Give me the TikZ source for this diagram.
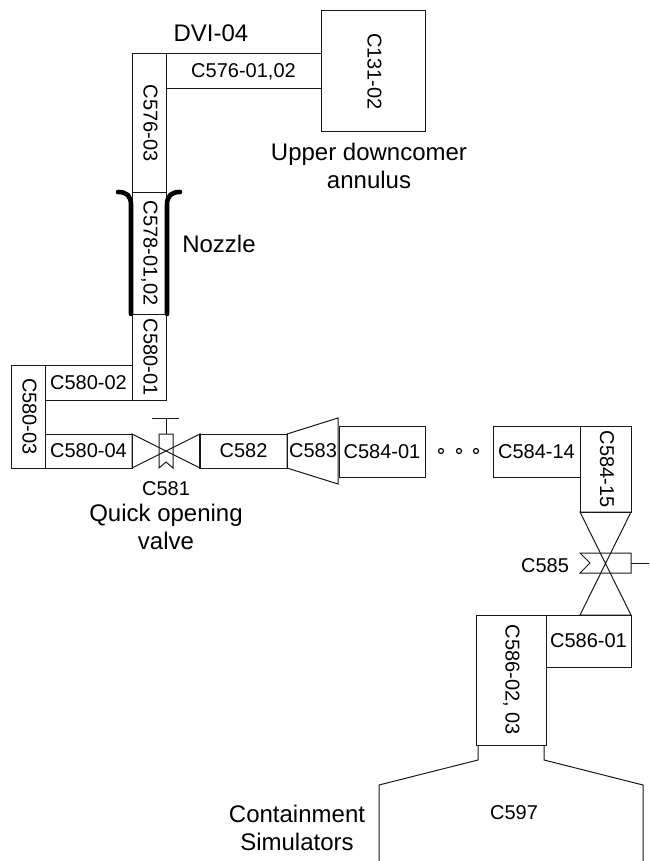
\documentclass[tikz,border=0pt]{standalone}
\usepackage{fontspec}
\setmainfont{Liberation Sans}
\newcommand{\pxbox}[7]{% name, x0, y0, x1, y1, rotation, text
  \pgfmathsetmacro{\cxv}{(#2+#4)/2}\pgfmathsetmacro{\cyv}{(#3+#5)/2}
  \pgfmathsetmacro{\wv}{abs(#4-#2)}\pgfmathsetmacro{\hv}{abs(#5-#3)}
  \ifnum#6=0
    \node[pipebox,minimum width=\wv pt,minimum height=\hv pt] (#1) at (\cxv,\cyv) {#7};
  \else
    \node[pipebox,rotate=-90,minimum width=\hv pt,minimum height=\wv pt] (#1) at (\cxv,\cyv) {\raisebox{3pt}{#7}};
  \fi}
\tikzset{
  pipebox/.style={draw=black!90,line width=1pt,inner sep=0pt,font=\fontsize{20}{24}\selectfont},
  shapeline/.style={draw=black!90,line width=1pt,line join=miter},
  thickwall/.style={draw=black,line width=4.6pt,line cap=round},
  biglabel/.style={inner sep=0pt,align=center,font=\fontsize{24}{28}\selectfont},
  smalllabel/.style={inner sep=0pt,font=\fontsize{20}{24}\selectfont},
  dotmark/.style={circle,draw=black,line width=1.2pt,minimum size=5pt,inner sep=0pt}
}
\begin{document}
\begin{tikzpicture}[x=1pt,y=-1pt]
\useasboundingbox (0,0) rectangle (649,861);
% top section
\pxbox{cOneThreeOne}{321}{11}{425}{132}{1}{C131-02}
\pxbox{cFiveSevenSixA}{166}{54}{321}{89}{0}{C576-01,02}
\pxbox{cFiveSevenSixB}{132}{54}{166}{192}{1}{C576-03}
\pxbox{cFiveSevenEight}{132}{192}{166}{314}{1}{C578-01,02}
\pxbox{cFiveEightyA}{132}{314}{166}{400}{1}{C580-01}
\pxbox{cFiveEightyB}{45}{365}{132}{400}{0}{C580-02}
\pxbox{cFiveEightyC}{11}{365}{45}{468}{1}{C580-03}
\pxbox{cFiveEightyD}{45}{434}{132}{468}{0}{C580-04}
% nozzle walls
\draw[thickwall] (131,314) -- (131,205) .. controls (131,196) and (127,192) .. (118,192);
\draw[thickwall] (167,314) -- (167,205) .. controls (167,196) and (171,192) .. (180,192);
% valve C581
\draw[shapeline] (159,468) -- (159,434) -- (173,434) -- (173,468) -- (166,462) -- cycle;
\draw[shapeline] (132,434) -- (200,468) -- (200,434) -- (132,468) -- cycle;
\draw[shapeline] (166,434) -- (166,418);
\draw[shapeline] (152,418) -- (179,418);
% run
\pxbox{cFiveEightyTwo}{200}{434}{287}{468}{0}{C582}
\draw[shapeline,line width=1.6pt] (cFiveEightyTwo.north west) -- (cFiveEightyTwo.south west);
\draw[shapeline] (287,434) -- (338,418) -- (338,484) -- (287,468) -- cycle;
\node[smalllabel] (cFiveEightyThree) at (313,451) {C583};
\pxbox{cFiveEightyFourA}{339}{426}{425}{477}{0}{C584-01}
\node[dotmark] (dotA) at (441,451) {};
\node[dotmark] (dotB) at (459,451) {};
\node[dotmark] (dotC) at (476,451) {};
\pxbox{cFiveEightyFourB}{493}{426}{580}{477}{0}{C584-14}
\pxbox{cFiveEightyFourC}{580}{426}{631}{512}{1}{C584-15}
% valve C585
\draw[shapeline] (580,553) -- (631,553) -- (631,573) -- (580,573) -- (590,563) -- cycle;
\draw[shapeline] (580,512) -- (631,615) -- (580,615) -- (631,512) -- cycle;
\draw[shapeline] (631,563) -- (649,563);
\node[smalllabel] (cFiveEightyFive) at (545,566) {C585};
% bottom
\pxbox{cFiveEightySixA}{546}{615}{631}{667}{0}{C586-01}
\pxbox{cFiveEightySixB}{476}{615}{546}{745}{1}{C586-02, 03}
\draw[shapeline] (478,745) -- (478,760) -- (379,785) -- (379,861);
\draw[shapeline] (544,745) -- (544,760) -- (643,785) -- (643,861);
\node[smalllabel] (cFiveNineSeven) at (514,813) {C597};
% labels
\node[biglabel] (lblDvi) at (211,33) {DVI-04};
\node[biglabel] (lblUpper) at (369,166) {Upper downcomer\\annulus};
\node[biglabel] (lblNozzle) at (219,244) {Nozzle};
\node[smalllabel] (cFiveEightyOne) at (166,489) {C581};
\node[biglabel] (lblQuick) at (166,527) {Quick opening\\valve};
\node[biglabel] (lblCont) at (297,828) {Containment\\Simulators};
\end{tikzpicture}
\end{document}
